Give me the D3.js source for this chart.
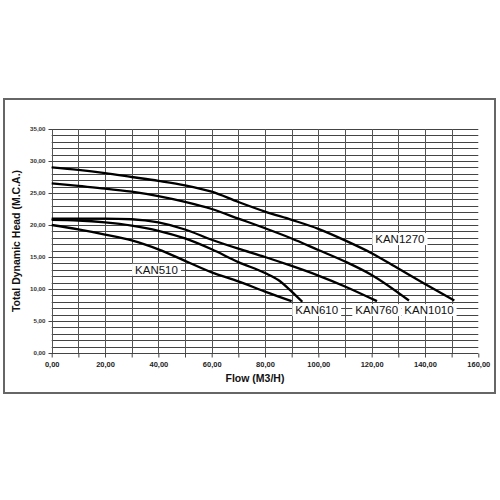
<!DOCTYPE html>
<html><head><meta charset="utf-8">
<script src="https://cdn.jsdelivr.net/npm/d3@7"></script>
<style>body{margin:0;background:#fff}</style>
</head><body><svg id="c" width="500" height="500"></svg>
<script>
// ---- data ----
const xTickLabels = [0,20,40,60,80,100,120,140,160];
const yTickLabels = [0,5,10,15,20,25,30,35];
const xGrid = [0,10,20,30,40,50,60,70,80,90,100,110,120,130,140,150];
const yGrid = d3.range(0,36,1);

const kan1270Q = [0,10,20,30,40,50,60,70,80,90,100,110,120,130,140,151];
const kan1270H = [29.0,28.6,28.1,27.5,26.9,26.2,25.2,23.6,22.1,20.8,19.4,17.6,15.6,13.2,10.8,8.2];
const kan1010Q = [0,10,20,30,40,50,60,70,80,90,100,110,120,134];
const kan1010H = [26.5,26.1,25.7,25.2,24.5,23.6,22.5,21.0,19.5,17.9,16.1,14.3,12.2,8.2];
const kan760Q = [0,10,20,30,40,50,60,70,80,90,100,110,122];
const kan760H = [21.0,21.0,21.0,20.9,20.4,19.3,17.7,16.3,15.0,13.6,12.1,10.4,8.1];
const kan610Q = [0,10,20,30,40,50,60,70,80,85,90,94];
const kan610H = [20.8,20.7,20.4,19.9,19.1,17.9,16.2,14.2,12.5,11.4,9.6,8.0];
const kan510Q = [0,10,20,30,40,50,60,70,80,90];
const kan510H = [20.0,19.3,18.5,17.6,16.2,14.4,12.6,11.2,9.6,8.1];

const seriesNames = ["KAN1270","KAN1010","KAN760","KAN610","KAN510"];
const labelQ = [130.6,141.5,121.9,99.4,39.3];
const labelH = [17.8,6.7,6.7,6.7,13.0];

const xTitle = "Flow (M3/H)";
const yTitle = "Total Dynamic Head (M.C.A.)";

// ---- drawing ----
const svg = d3.select("#c");
const x = d3.scaleLinear().domain([0,160]).range([51.7,478.3]);
const y = d3.scaleLinear().domain([0,35]).range([353,129]);
const fmt = v => d3.format(".2f")(v).replace(".", ",");

// outer frame
svg.append("rect").attr("x",4).attr("y",99).attr("width",491).attr("height",294)
  .attr("fill","none").attr("stroke","#666").attr("stroke-width",2);

const g = svg.append("g");
// horizontal grid
g.selectAll("line.h").data(yGrid).join("line")
  .attr("x1",x(0)).attr("x2",x(160))
  .attr("y1",d=>Math.round(y(d))+0.5).attr("y2",d=>Math.round(y(d))+0.5)
  .attr("stroke","#444").attr("stroke-width",1);
// vertical grid
g.selectAll("line.v").data(xGrid).join("line")
  .attr("x1",d=>Math.round(x(d))+0.5).attr("x2",d=>Math.round(x(d))+0.5)
  .attr("y1",y(35)).attr("y2",y(0))
  .attr("stroke","#555").attr("stroke-width",1);

// axes
const xAxis = d3.axisBottom(x).tickValues(d3.range(0,161,10)).tickSize(4)
  .tickFormat(d => xTickLabels.includes(d) ? fmt(d) : "");
const ax = svg.append("g").attr("transform",`translate(0,${Math.round(y(0))+0.5})`).call(xAxis);
ax.select(".domain").remove();
ax.selectAll("line").attr("stroke","#444");
ax.selectAll("text").attr("font-family","Liberation Sans, Arial, sans-serif")
  .attr("font-weight","bold").attr("font-size","7.5px").attr("fill","#222").attr("dy","0.9em");

const yAxis = d3.axisLeft(y).tickValues(yTickLabels).tickSize(4).tickFormat(fmt);
const ay = svg.append("g").attr("transform",`translate(${Math.round(x(0))+0.5},0)`).call(yAxis);
ay.select(".domain").remove();
ay.selectAll("line").attr("stroke","#444");
ay.selectAll("text").attr("font-family","Liberation Sans, Arial, sans-serif")
  .attr("font-weight","bold").attr("font-size","6.2px").attr("fill","#333");

// curves
const series = [
  [kan1270Q,kan1270H],[kan1010Q,kan1010H],[kan760Q,kan760H],[kan610Q,kan610H],[kan510Q,kan510H]
];
const line = d3.line().x(d=>x(d[0])).y(d=>y(d[1])).curve(d3.curveMonotoneX);
svg.append("g").selectAll("path").data(series).join("path")
  .attr("d", s => line(s[0].map((q,i)=>[q,s[1][i]])))
  .attr("fill","none").attr("stroke","#000").attr("stroke-width",2.3);

// labels
const lg = svg.append("g");
seriesNames.forEach((n,i)=>{
  const t = lg.append("text").attr("x",x(labelQ[i])).attr("y",y(labelH[i]))
    .attr("text-anchor","middle").attr("dominant-baseline","central")
    .attr("font-family","Liberation Sans, Arial, sans-serif").attr("font-size","11.5px")
    .attr("fill","#111").text(n);
  const b = t.node().getBBox();
  lg.insert("rect","text").attr("x",b.x-3).attr("y",b.y).attr("width",b.width+6).attr("height",b.height)
    .attr("fill","#fff");
});

// titles
svg.append("text").attr("x",255).attr("y",382).attr("text-anchor","middle")
  .attr("font-family","Liberation Sans, Arial, sans-serif").attr("font-weight","bold")
  .attr("font-size","10.5px").attr("fill","#111").text(xTitle);
svg.append("text").attr("transform",`translate(20,241) rotate(-90)`).attr("text-anchor","middle")
  .attr("font-family","Liberation Sans, Arial, sans-serif").attr("font-weight","bold")
  .attr("font-size","10.5px").attr("fill","#111").text(yTitle);
</script></body></html>
